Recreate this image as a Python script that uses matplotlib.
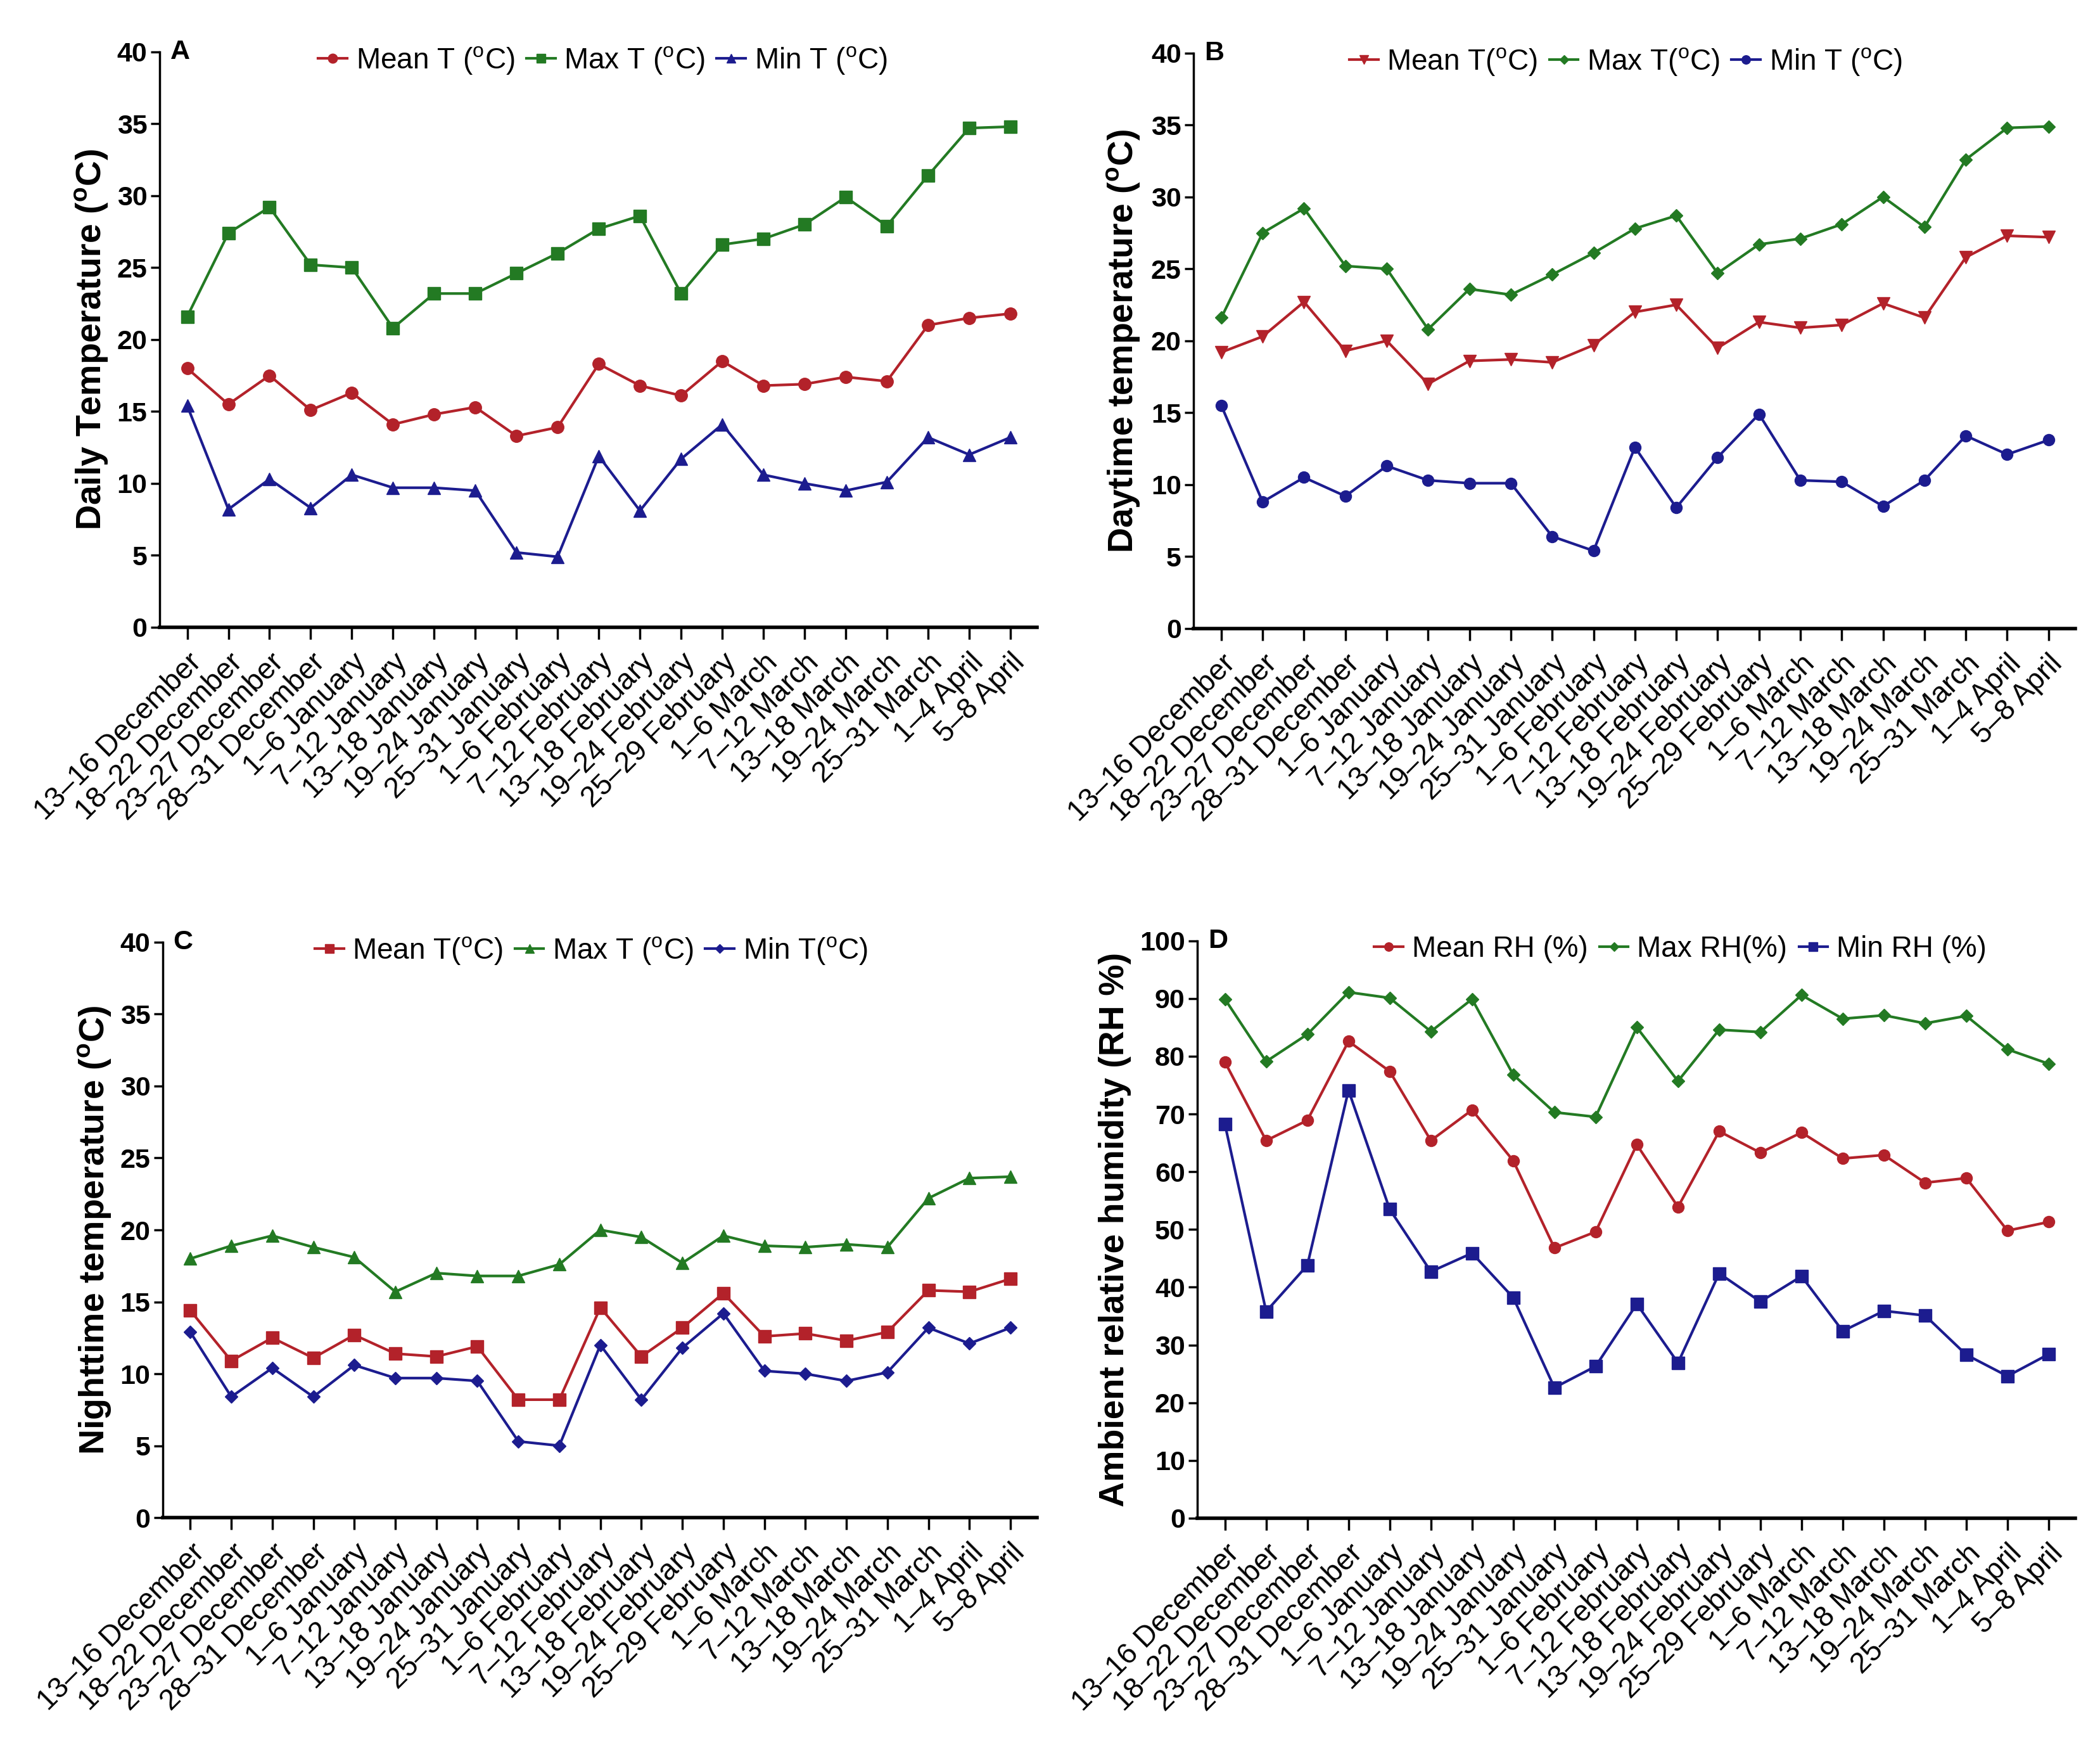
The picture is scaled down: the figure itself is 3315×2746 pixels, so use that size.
import matplotlib
matplotlib.use("Agg")
import matplotlib.pyplot as plt
import numpy as np

# ==============================
# DATA
# ==============================
periods = ["13–16 December", "18–22 December", "23–27 December", "28–31 December",
           "1–6 January", "7–12 January", "13–18 January", "19–24 January",
           "25–31 January", "1–6 February", "7–12 February", "13–18 February",
           "19–24 February", "25–29 February", "1–6 March", "7–12 March",
           "13–18 March", "19–24 March", "25–31 March", "1–4 April", "5–8 April"]

# A - daily temperature
daily_mean = [18.0, 15.5, 17.5, 15.1, 16.3, 14.1, 14.8, 15.3, 13.3, 13.9, 18.3,
              16.8, 16.1, 18.5, 16.8, 16.9, 17.4, 17.1, 21.0, 21.5, 21.8]
daily_max = [21.6, 27.4, 29.2, 25.2, 25.0, 20.8, 23.2, 23.2, 24.6, 26.0, 27.7,
             28.6, 23.2, 26.6, 27.0, 28.0, 29.9, 27.9, 31.4, 34.7, 34.8]
daily_min = [15.4, 8.2, 10.3, 8.3, 10.6, 9.7, 9.7, 9.5, 5.2, 4.9, 11.9,
             8.1, 11.7, 14.1, 10.6, 10.0, 9.5, 10.1, 13.2, 12.0, 13.2]

# B - daytime temperature
day_mean = [19.2, 20.3, 22.7, 19.3, 20.0, 17.0, 18.6, 18.7, 18.5, 19.7, 22.0,
            22.5, 19.5, 21.3, 20.9, 21.1, 22.6, 21.6, 25.8, 27.3, 27.2]
day_max = [21.6, 27.5, 29.2, 25.2, 25.0, 20.8, 23.6, 23.2, 24.6, 26.1, 27.8,
           28.7, 24.7, 26.7, 27.1, 28.1, 30.0, 27.9, 32.6, 34.8, 34.9]
day_min = [15.5, 8.8, 10.5, 9.2, 11.3, 10.3, 10.1, 10.1, 6.4, 5.4, 12.6,
           8.4, 11.9, 14.9, 10.3, 10.2, 8.5, 10.3, 13.4, 12.1, 13.1]

# C - nighttime temperature
night_mean = [14.4, 10.9, 12.5, 11.1, 12.7, 11.4, 11.2, 11.9, 8.2, 8.2, 14.6,
              11.2, 13.2, 15.6, 12.6, 12.8, 12.3, 12.9, 15.8, 15.7, 16.6]
night_max = [18.0, 18.9, 19.6, 18.8, 18.1, 15.7, 17.0, 16.8, 16.8, 17.6, 20.0,
             19.5, 17.7, 19.6, 18.9, 18.8, 19.0, 18.8, 22.2, 23.6, 23.7]
night_min = [12.9, 8.4, 10.4, 8.4, 10.6, 9.7, 9.7, 9.5, 5.3, 5.0, 12.0,
             8.2, 11.8, 14.2, 10.2, 10.0, 9.5, 10.1, 13.2, 12.1, 13.2]

# D - relative humidity
rh_mean = [79.0, 65.4, 68.9, 82.6, 77.4, 65.4, 70.7, 61.9, 46.8, 49.6, 64.7,
           53.9, 67.0, 63.3, 66.8, 62.3, 62.9, 58.1, 58.9, 49.8, 51.3]
rh_max = [89.9, 79.1, 83.8, 91.1, 90.1, 84.3, 89.9, 76.8, 70.3, 69.5, 85.0,
          75.7, 84.6, 84.2, 90.6, 86.5, 87.1, 85.7, 87.0, 81.2, 78.7]
rh_min = [68.2, 35.8, 43.8, 74.1, 53.5, 42.7, 45.9, 38.2, 22.6, 26.3, 37.1,
          26.9, 42.4, 37.5, 41.9, 32.4, 35.9, 35.1, 28.3, 24.6, 28.4]

# ==============================
# STYLE
# ==============================
RED = "#b3222a"
GREEN = "#237a23"
BLUE = "#1c1c8f"
NARROW = ["Liberation Sans Narrow", "Liberation Sans", "DejaVu Sans"]
SANS = ["Liberation Sans", "DejaVu Sans"]

plt.rcParams["font.family"] = SANS
plt.rcParams["mathtext.fontset"] = "custom"
plt.rcParams["mathtext.rm"] = "Liberation Sans"
plt.rcParams["mathtext.bf"] = "Liberation Sans:bold"

DEG = r"$^{\mathrm{o}}$C"
DEGB = r"$^{\mathbf{o}}$C"

fig = plt.figure(figsize=(33.16, 27.46), dpi=100)

panels = [
    dict(rect=[0.0760, 0.6395, 0.4177, 0.3307], letter="A",
         series=[(daily_mean, RED, "o", 14, "Mean T (" + DEG + ")"),
                 (daily_max, GREEN, "s", 14, "Max T (" + DEG + ")"),
                 (daily_min, BLUE, "^", 14, "Min T (" + DEG + ")")],
         ylabel="Daily Temperature (" + DEGB + ")", ymax=40, ystep=5,
         labx=-0.057, legx=0.505),
    dict(rect=[0.5682, 0.6388, 0.4198, 0.3307], letter="B",
         series=[(day_mean, RED, "v", 14, "Mean T(" + DEG + ")"),
                 (day_max, GREEN, "D", 10, "Max T(" + DEG + ")"),
                 (day_min, BLUE, "o", 13, "Min T (" + DEG + ")")],
         ylabel="Daytime temperature (" + DEGB + ")", ymax=40, ystep=5,
         labx=-0.059, legx=0.49),
    dict(rect=[0.0775, 0.1278, 0.4162, 0.3307], letter="C",
         series=[(night_mean, RED, "s", 14, "Mean T(" + DEG + ")"),
                 (night_max, GREEN, "^", 14, "Max T (" + DEG + ")"),
                 (night_min, BLUE, "D", 10, "Min T(" + DEG + ")")],
         ylabel="Nighttime temperature (" + DEGB + ")", ymax=40, ystep=5,
         labx=-0.057, legx=0.49),
    dict(rect=[0.5700, 0.1275, 0.4180, 0.3318], letter="D",
         series=[(rh_mean, RED, "o", 13, "Mean RH (%)"),
                 (rh_max, GREEN, "D", 10, "Max RH(%)"),
                 (rh_min, BLUE, "s", 14, "Min RH (%)")],
         ylabel="Ambient relative humidity (RH %)", ymax=100, ystep=10,
         labx=-0.075, legx=0.55),
]

x = np.arange(len(periods))

for p in panels:
    ax = fig.add_axes(p["rect"])
    for vals, col, mk, ms, lab in p["series"]:
        ax.plot(x, vals, color=col, marker=mk, markersize=ms, lw=3, label=lab)

    ax.set_xlim(-0.67, len(periods) - 1 + 0.65)
    ax.set_ylim(0, p["ymax"])
    ax.set_yticks(np.arange(0, p["ymax"] + 1, p["ystep"]))
    ax.set_xticks(x)
    ax.set_xticklabels(periods, rotation=45, ha="right", rotation_mode="anchor",
                       fontsize=33, family=SANS)
    for t in ax.get_yticklabels():
        t.set_fontsize(31)
        t.set_fontweight("bold")
        t.set_family(NARROW)

    ax.spines["top"].set_visible(False)
    ax.spines["right"].set_visible(False)
    ax.spines["left"].set_linewidth(2.5)
    ax.spines["bottom"].set_linewidth(4)
    ax.tick_params(axis="x", length=14, width=2.5, pad=10)
    ax.tick_params(axis="y", length=10, width=2.5, pad=4)

    ax.set_ylabel(p["ylabel"], fontsize=40, fontweight="bold")
    ax.yaxis.set_label_coords(p["labx"], 0.5)

    ax.text(0.012, 1.0, p["letter"], transform=ax.transAxes, ha="left",
            va="center", fontsize=31, fontweight="bold", family=NARROW)

    ax.legend(loc="center", bbox_to_anchor=(p["legx"], 0.985), ncol=3,
              frameon=False, handlelength=1.0, handletextpad=0.3,
              columnspacing=0.4, prop={"family": NARROW, "size": 33},
              markerscale=0.75)

plt.savefig("out.png", dpi=100)
